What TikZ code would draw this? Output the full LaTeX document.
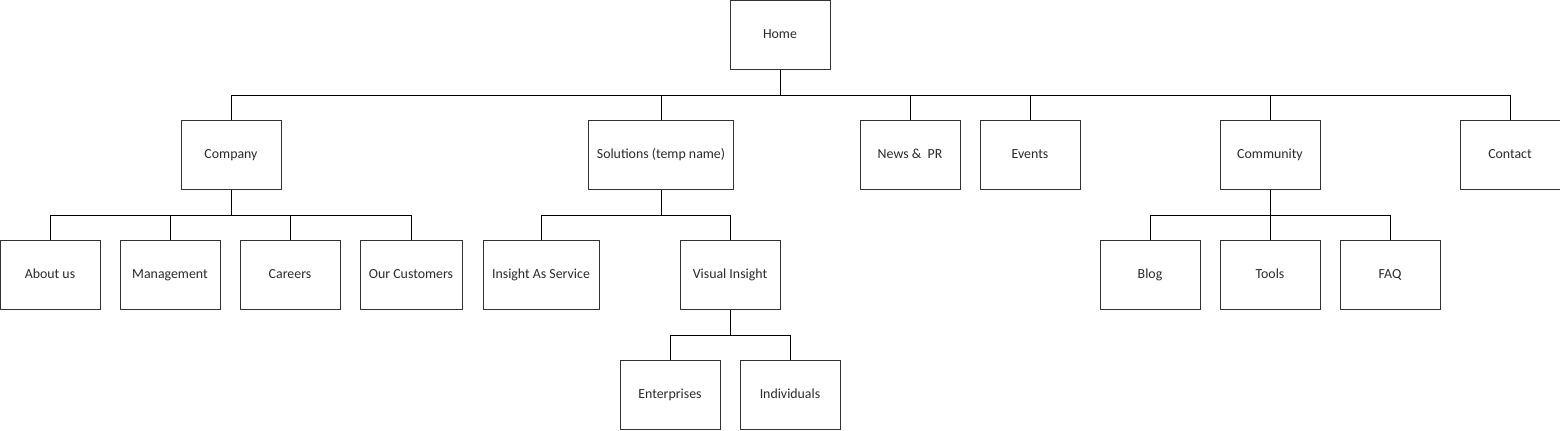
\documentclass[tikz,border=0pt]{standalone}
\usepackage{fontspec}
\setmainfont{Carlito}
\usepackage{tikz}
\usetikzlibrary{positioning,calc}
\definecolor{BoxLine}{HTML}{333333}
\definecolor{TextGray}{HTML}{2b2b2b}

\tikzset{
    pagebox/.style={draw=BoxLine, line width=0.75pt, fill=white,
                    minimum width=75pt, minimum height=51.75pt,
                    inner sep=2pt, text height=1.5ex, text depth=0.3ex,
                    font=\fontsize{10.4}{12}\selectfont, text=TextGray},
    link/.style={draw=black, line width=0.75pt}
}

\begin{document}
\begin{tikzpicture}[x=0.75pt, y=-0.75pt]
    \useasboundingbox (0,0) rectangle (1560,430);

    % top level
    \node[pagebox] (home) at (780,34.5) {Home};

    % first level
    \node[pagebox] (company)   at (231,154.5)  {Company};
    \node[pagebox, minimum width=108.75pt] (solutions) at (661,154.5) {Solutions (temp name)};
    \node[pagebox] (news)      at (910,154.5)  {News \&\ \ PR};
    \node[pagebox] (events)    at (1030,154.5) {Events};
    \node[pagebox] (community) at (1270,154.5) {Community};
    \node[pagebox] (contact)   at (1510,154.5) {Contact};

    % second level
    \node[pagebox] (about)      at (50,274.5)  {About us};
    \node[pagebox] (management) at (170,274.5) {Management};
    \node[pagebox] (careers)    at (290,274.5) {Careers};
    \node[pagebox, minimum width=76.5pt] (customers) at (411,274.5) {Our Customers};
    \node[pagebox, minimum width=87pt] (insight) at (541,274.5) {Insight As Service};
    \node[pagebox] (visual)     at (730,274.5) {Visual Insight};
    \node[pagebox] (blog)       at (1150,274.5) {Blog};
    \node[pagebox] (tools)      at (1270,274.5) {Tools};
    \node[pagebox] (faq)        at (1390,274.5) {FAQ};

    % third level
    \node[pagebox] (enterprises) at (670,394.5) {Enterprises};
    \node[pagebox] (individuals) at (790,394.5) {Individuals};

    % bus points
    \coordinate (busHome)      at (780,95);
    \coordinate (busCompany)   at (231,215);
    \coordinate (busSolutions) at (661,215);
    \coordinate (busCommunity) at (1270,215);
    \coordinate (busVisual)    at (730,335);

    % connectors
    \draw[link] (home.south) -- (busHome);
    \foreach \n in {company,solutions,news,events,community,contact}
        \draw[link] (\n.north) |- (busHome);

    \draw[link] (company.south) -- (busCompany);
    \foreach \n in {about,management,careers,customers}
        \draw[link] (\n.north) |- (busCompany);

    \draw[link] (solutions.south) -- (busSolutions);
    \foreach \n in {insight,visual}
        \draw[link] (\n.north) |- (busSolutions);

    \draw[link] (community.south) -- (busCommunity);
    \foreach \n in {blog,tools,faq}
        \draw[link] (\n.north) |- (busCommunity);

    \draw[link] (visual.south) -- (busVisual);
    \foreach \n in {enterprises,individuals}
        \draw[link] (\n.north) |- (busVisual);
\end{tikzpicture}
\end{document}
